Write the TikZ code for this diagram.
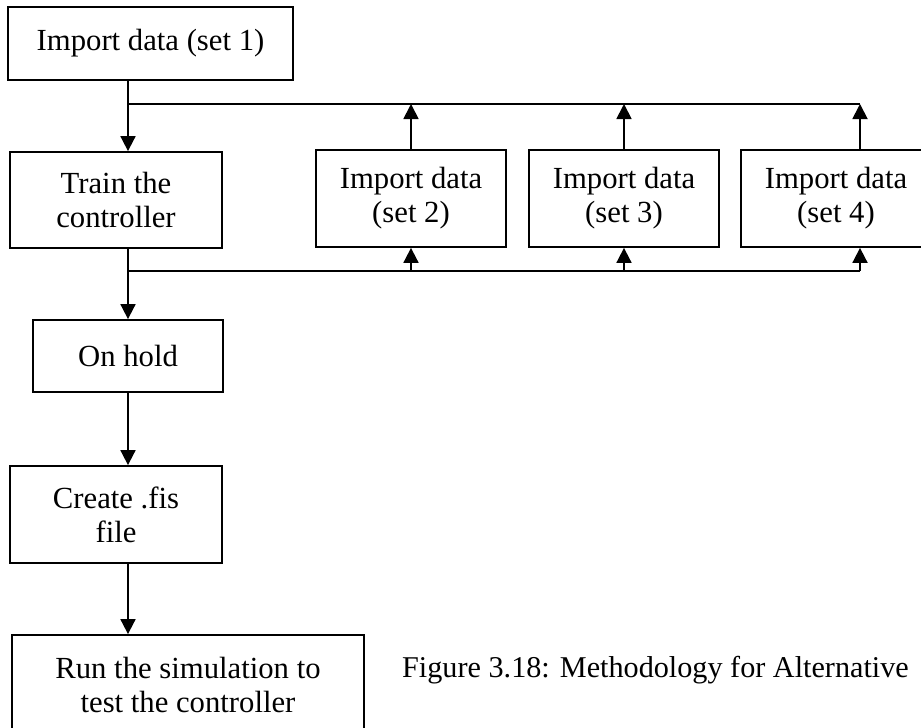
\documentclass[tikz,border=0pt]{standalone}
\usepackage{fontspec}
\setmainfont{Liberation Serif}
\usetikzlibrary{arrows.meta}
\begin{document}
\begin{tikzpicture}[x=1pt,y=-1pt,
  stepbox/.style={draw, line width=1.8pt, minimum width=#1, inner sep=0pt,
    align=center, font=\fontsize{30.7}{34}\selectfont},
  flow/.style={line width=1.8pt, -{Triangle[width=15pt,length=15pt]}},
  wire/.style={line width=1.8pt}]
\clip (0,0) rectangle (921,728);
\fill[white] (0,0) rectangle (921,728);

% main column
\node[stepbox=285pt, minimum height=73pt] (b1) at (150.5,43.5) {Import data (set 1)};
\node[stepbox=212pt, minimum height=96pt] (train) at (116,200) {Train the\\controller};
\node[stepbox=190pt, minimum height=72pt] (hold) at (128,356) {On hold};
\node[stepbox=212pt, minimum height=97pt] (fis) at (116,514.5) {Create .fis\\file};
\node[stepbox=352pt, minimum height=100pt] (run) at (188,685) {Run the simulation to\\test the controller};

% extra data sets
\node[stepbox=190pt, minimum height=97pt] (s2) at (411,198.5) {Import data\\(set 2)};
\node[stepbox=190pt, minimum height=97pt] (s3) at (624,198.5) {Import data\\(set 3)};
\node[stepbox=190pt, minimum height=97pt] (s4) at (836,198.5) {Import data\\(set 4)};

% trunk and bus end points
\coordinate (tA) at (128,104);
\coordinate (tB) at (128,271);
\coordinate (topEnd) at (860,104);
\coordinate (botEnd) at (860,271);

\draw[flow] (tA |- b1.south) -- (tA |- train.north);
\draw[flow] (tB |- train.south) -- (hold.north);
\draw[flow] (hold.south) -- (tA |- fis.north);
\draw[flow] (tA |- fis.south) -- (tA |- run.north);

% upper bus: data sets feed back into the training input
\draw[wire] (tA) -- (topEnd);
\draw[flow] (s2.north) -- (s2.north |- tA);
\draw[flow] (s3.north) -- (s3.north |- tA);
\draw[flow] (topEnd |- s4.north) -- (topEnd);

% lower bus: controller output triggers the next data set
\draw[wire] (tB) -- (botEnd);
\draw[flow] (s2.south |- tB) -- (s2.south);
\draw[flow] (s3.south |- tB) -- (s3.south);
\draw[flow] (botEnd) -- (botEnd |- s4.south);

% caption
\node[anchor=base west, inner sep=0pt, font=\fontsize{30.2}{34}\selectfont] (cap) at (402,677)
  {Figure 3.18: Methodology for Alternative};
\end{tikzpicture}
\end{document}
